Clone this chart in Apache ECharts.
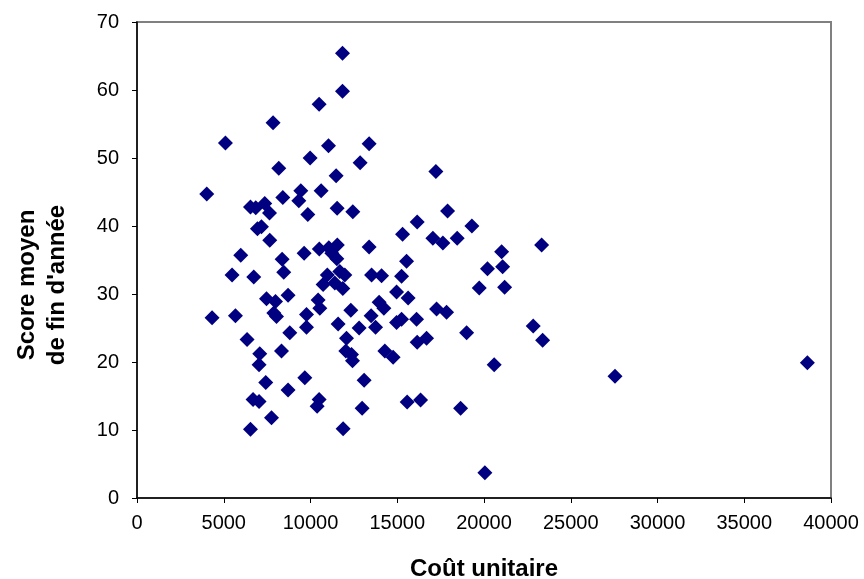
<!DOCTYPE html>
<html>
<head>
<meta charset="utf-8">
<script src="https://cdn.jsdelivr.net/npm/echarts@6/dist/echarts.min.js"></script>
<style>
  html, body { margin: 0; padding: 0; background: #fff; }
  #main { width: 864px; height: 579px; }
</style>
</head>
<body>
<div id="main"></div>
<script>
// coût unitaire (x) et score moyen (y)
const cout = [
  11845, 11845, 10497, 7843, 5098, 11038, 13380, 9977, 8172, 12860,
  11477, 17226, 4020, 9441, 10612, 8403, 9326, 6540, 6845, 7364,
  7636, 9845, 11534, 12440, 17901, 16148, 19302, 15305, 17053, 17630,
  18455, 6943, 7173, 7652, 5980, 8364, 8460, 9633, 10507, 11055,
  11546, 11228, 11517, 13380, 15537, 5479, 6730, 10970, 10727, 11690,
  11978, 11401, 11863, 13518, 14095, 15248, 20200, 21072, 21015, 23321,
  19725, 21188, 7463, 7982, 8040, 7884, 8708, 4325, 5675, 10438,
  10537, 9769, 9769, 8806, 12324, 11592, 12803, 13495, 13749, 13957,
  14228, 14959, 15628, 14959, 15248, 16113, 17266, 17843, 18997, 16148,
  16690, 12076, 6344, 7076, 7036, 8327, 12036, 12364, 12422, 14285,
  14764, 20588, 9671, 7422, 13091, 8708, 6690, 7036, 10496, 10381,
  12976, 15571, 16344, 18651, 7751, 6540, 11880, 20052, 27549, 38638,
  22837, 23379
]
const score = [
  65.4, 59.8, 57.9, 55.2, 52.2, 51.8, 52.1, 50.0, 48.5, 49.3,
  47.4, 48.0, 44.7, 45.2, 45.2, 44.2, 43.7, 42.8, 42.7, 43.3,
  41.9, 41.7, 42.6, 42.1, 42.2, 40.6, 40.0, 38.8, 38.2, 37.5,
  38.2, 39.6, 39.9, 37.9, 35.7, 35.1, 33.2, 36.0, 36.6, 36.8,
  37.2, 36.0, 35.2, 36.9, 34.8, 32.8, 32.5, 32.8, 31.4, 33.3,
  32.8, 31.6, 30.8, 32.8, 32.7, 32.6, 33.7, 34.0, 36.2, 37.2,
  30.9, 31.0, 29.3, 28.9, 26.7, 27.2, 29.8, 26.5, 26.8, 29.1,
  27.9, 27.0, 25.1, 24.3, 27.6, 25.6, 25.0, 26.8, 25.1, 28.8,
  27.9, 30.3, 29.4, 25.8, 26.3, 26.3, 27.8, 27.3, 24.3, 22.9,
  23.5, 23.5, 23.3, 21.2, 19.6, 21.6, 21.6, 21.1, 20.2, 21.6,
  20.7, 19.6, 17.7, 17.0, 17.3, 15.9, 14.5, 14.2, 14.5, 13.5,
  13.2, 14.1, 14.4, 13.2, 11.8, 10.1, 10.2, 3.7, 17.9, 19.9,
  25.3, 23.2
]

const points = cout.map((c, i) => [c, score[i]])

const fontFamily = '"Liberation Sans", Arial, sans-serif'

const option = {
  animation: false,
  backgroundColor: '#fff',
  grid: {
    left: 137,
    right: 33,
    top: 22,
    bottom: 81,
    outerBoundsMode: 'none',
    show: true,
    borderColor: '#808080',
    borderWidth: 2
  },
  xAxis: {
    type: 'value',
    min: 0,
    max: 40000,
    interval: 5000,
    name: 'Coût unitaire',
    nameLocation: 'middle',
    nameGap: 59,
    nameTextStyle: { fontFamily, fontSize: 24, fontWeight: 'bold', color: '#000' },
    axisLine: { show: true, onZero: false, lineStyle: { color: '#000', width: 1.5 } },
    axisTick: { show: true, length: 5, lineStyle: { color: '#000' } },
    axisLabel: { fontFamily, fontSize: 20, color: '#000', margin: 15, formatter: v => String(v) },
    splitLine: { show: false }
  },
  yAxis: {
    type: 'value',
    min: 0,
    max: 70,
    interval: 10,
    axisLine: { show: true, onZero: false, lineStyle: { color: '#000', width: 1.5 } },
    axisTick: { show: true, length: 5, lineStyle: { color: '#000' } },
    axisLabel: { fontFamily, fontSize: 20, color: '#000', margin: 18 },
    splitLine: { show: false }
  },
  graphic: [
    {
      type: 'text',
      x: 42,
      y: 285,
      rotation: Math.PI / 2,
      style: {
        text: "Score moyen\nde fin d'année",
        fontFamily,
        fontSize: 24,
        fontWeight: 'bold',
        fill: '#000',
        align: 'center',
        verticalAlign: 'middle',
        lineHeight: 30
      }
    }
  ],
  series: [
    {
      type: 'scatter',
      data: points,
      symbol: 'diamond',
      symbolSize: 15,
      itemStyle: { color: '#000080', opacity: 1 }
    }
  ]
}

const chart = echarts.init(document.getElementById('main'))
chart.setOption(option)
window.addEventListener('resize', () => chart.resize())
</script>
</body>
</html>
